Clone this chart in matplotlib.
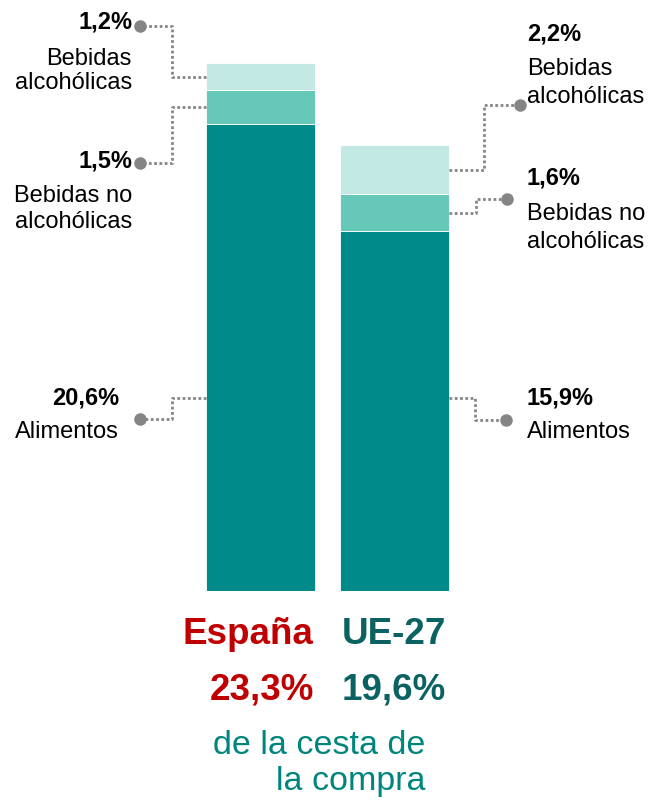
import matplotlib
matplotlib.use("Agg")
import matplotlib.pyplot as plt

plt.rcParams['font.family'] = ['Liberation Sans', 'DejaVu Sans']

# ---------------- data ----------------
regions = ["España", "UE-27"]
alimentos = [20.6, 15.9]
bebidas_no_alc = [1.5, 1.6]
bebidas_alc = [1.2, 2.2]
totales = ["23,3%", "19,6%"]
labels_alim = ["20,6%", "15,9%"]
labels_noalc = ["1,5%", "1,6%"]
labels_alc = ["1,2%", "2,2%"]

c_alim = "#008A8A"
c_noalc = "#66C8B8"
c_alc = "#C2E9E3"
c_red = "#C00000"
c_ue = "#0B6262"
c_sub = "#00857D"
c_dot = "#858585"

W, H = 649, 803
fig = plt.figure(figsize=(W / 100, H / 100), dpi=100)

# axes: bottom of bars at 592 px from top; 22.66 px per percentage point
bottom_px = 592
ppu = 22.66
ax = fig.add_axes([0, 1 - bottom_px / H, 1, bottom_px / H])
ax.set_ylim(0, bottom_px / ppu)
xpx = 134.0
ax.set_xlim(-260.5 / xpx, (W - 260.5) / xpx)
ax.axis('off')

x = [0, 1]
bw = 109 / xpx
ax.bar(x, alimentos, width=bw, color=c_alim, edgecolor="white", linewidth=0.6)
b2 = [a for a in alimentos]
ax.bar(x, bebidas_no_alc, width=bw, bottom=b2, color=c_noalc, edgecolor="white", linewidth=0.6)
b3 = [a + b for a, b in zip(alimentos, bebidas_no_alc)]
ax.bar(x, bebidas_alc, width=bw, bottom=b3, color=c_alc, edgecolor="white", linewidth=0.6)


def px2x(px):
    return px / xpx - 260.5 / xpx


def py2y(py):
    return (bottom_px - py) / ppu


def fy(py):
    return 1 - py / H


def connector(x_bar, y_attach, x_elbow, y_dot_px, x_dot_px):
    xs = [x_bar, px2x(x_elbow), px2x(x_elbow), px2x(x_dot_px)]
    ys = [y_attach, y_attach, py2y(y_dot_px), py2y(y_dot_px)]
    ax.plot(xs, ys, color=c_dot, lw=2.0, ls=(0, (1, 0.9)), solid_capstyle='butt',
            dash_capstyle='butt', clip_on=False)
    ax.plot([px2x(x_dot_px)], [py2y(y_dot_px)], 'o', color=c_dot, ms=8, clip_on=False)


alim_attach = 8.5
left_edge = 0 - bw / 2
right_edge = 1 + bw / 2

# España (left side)
connector(left_edge, alimentos[0] + bebidas_no_alc[0] + bebidas_alc[0] / 2, 172, 27, 140)
connector(left_edge, alimentos[0] + bebidas_no_alc[0] / 2, 172, 164, 140)
connector(left_edge, alim_attach, 172, 420, 140)
# UE-27 (right side)
connector(right_edge, alimentos[1] + bebidas_no_alc[1] + bebidas_alc[1] / 2, 484, 106, 520)
connector(right_edge, alimentos[1] + bebidas_no_alc[1] / 2, 476, 200, 507)
connector(right_edge, alim_attach, 475, 421, 506)

fs = 17


def t(xp, yp, s, ha, bold=False, color="black", size=fs):
    fig.text(xp / W, fy(yp), s, ha=ha, va='baseline', fontsize=size,
             fontweight='bold' if bold else 'normal', color=color)


# left labels
t(132, 29, labels_alc[0], 'right', bold=True)
t(132, 65, "Bebidas", 'right')
t(132, 89, "alcohólicas", 'right')
t(132, 168, labels_noalc[0], 'right', bold=True)
t(132, 202, "Bebidas no", 'right')
t(132, 228, "alcohólicas", 'right')
t(119, 405, labels_alim[0], 'right', bold=True)
t(119, 438, "Alimentos", 'right')

# right labels
t(527, 40, labels_alc[1], 'left', bold=True)
t(527, 75, "Bebidas", 'left')
t(527, 103, "alcohólicas", 'left')
t(527, 184, labels_noalc[1], 'left', bold=True)
t(527, 220, "Bebidas no", 'left')
t(527, 248, "alcohólicas", 'left')
t(527, 405, labels_alim[1], 'left', bold=True)
t(527, 438, "Alimentos", 'left')

# bottom titles
t(313, 644, regions[0], 'right', bold=True, color=c_red, size=26.5)
t(314, 700, totales[0], 'right', bold=True, color=c_red, size=26.5)
t(342, 644, regions[1], 'left', bold=True, color=c_ue, size=26.5)
t(342, 700, totales[1], 'left', bold=True, color=c_ue, size=26.5)
t(425, 754, "de la cesta de", 'right', color=c_sub, size=24.5)
t(425, 790, "la compra", 'right', color=c_sub, size=24.5)

fig.savefig("out.png", dpi=100)
